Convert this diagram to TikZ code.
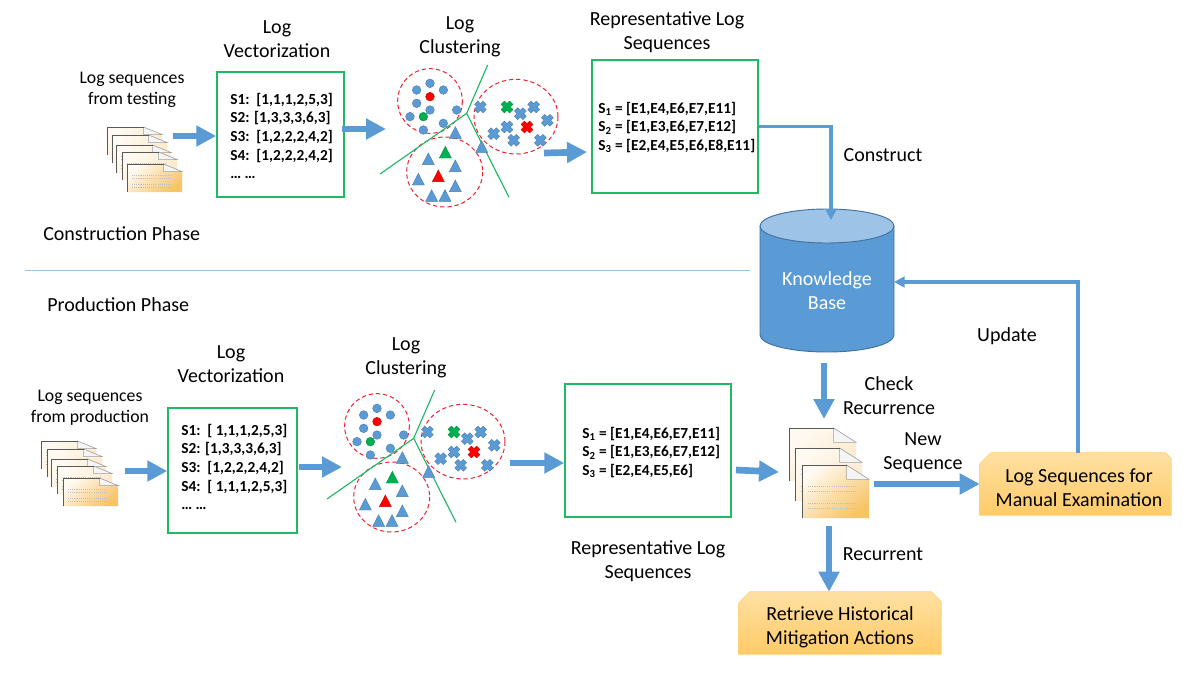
\documentclass[tikz,border=0pt]{standalone}
\usepackage{fontspec}
\setmainfont{Carlito}
\usetikzlibrary{arrows.meta,calc}
\definecolor{blockblue}{HTML}{5B9BD5}
\definecolor{darkblue}{HTML}{41719C}
\definecolor{lightblue}{HTML}{9DC3E6}
\definecolor{boxgreen}{HTML}{1FB865}
\definecolor{linegreen}{HTML}{1FB865}
\definecolor{clusterred}{HTML}{F02030}
\definecolor{mgreen}{HTML}{00B050}
\definecolor{orangetop}{HTML}{FFE0A3}
\definecolor{orangebot}{HTML}{FFCB66}
\definecolor{orangeedge}{HTML}{FFD27A}
\definecolor{sheetlight}{HTML}{FEFAF2}
\definecolor{sheetmid}{HTML}{FDF3E2}
\definecolor{sheetdark}{HTML}{F8C468}
\definecolor{sheetpale}{HTML}{FBE8C8}
\tikzset{
  px/.style={x=0.75pt,y=-0.75pt},
  seqbox/.style 2 args={draw=boxgreen,line width=1.1pt,fill=white,inner sep=0pt,
     minimum width=#1*0.75pt,minimum height=#2*0.75pt},
  seqtext/.style={font=\fontsize{11.5}{14}\selectfont\bfseries,align=left,anchor=west,inner sep=0pt},
  lab/.style={font=\fontsize{15}{18}\selectfont,align=center,inner sep=0pt},
  smalllab/.style={font=\fontsize{13.3}{15.8}\selectfont,align=center,inner sep=0pt},
  blockarrow/.style={draw=blockblue,line width=5pt,-{Triangle[width=15pt,length=15pt]}},
  elbow/.style={draw=blockblue,line width=2.9pt,-{Triangle[width=8pt,length=8pt]}},
  divider/.style={draw=lightblue,line width=0.7pt},
  clusterring/.style={draw=clusterred,line width=0.75pt,dash pattern=on 3.2pt off 2.2pt},
  sep/.style={draw=linegreen,line width=0.85pt},
  mark outline/.style={draw=darkblue,line width=0.3pt,fill=blockblue},
  actiontext/.style={font=\fontsize{15}{18}\selectfont,align=center,inner sep=0pt},
}
% one sheet of a stack: x, y, width, height in reference pixels, corner colour
\newcommand\docsheet[5]{%
  \begin{scope}[shift={(#1,#2)},x=#3*0.75pt,y=-#4*0.75pt]
    \shade[shading=axis,top color=sheetlight,middle color=sheetmid,bottom color=#5,shading angle=40]
      (0,0) -- (0.665,0) -- (1,0.27) -- (1,1) -- (0,1) -- cycle;
    \fill[white!92!gray] (0.665,0) -- (0.665,0.27) -- (1,0.27) -- cycle;
    \draw[gray!75,line width=0.45pt] (0.665,0) -- (1,0.27) -- (0.665,0.27) -- cycle;
    \draw[black!65,line width=0.75pt] (0,1) -- (0,0) -- (0.665,0);
    \foreach \ya in {0.4,0.5,0.72,0.82}
      \draw[gray!50,line width=0.4pt,dash pattern=on 0.8pt off 0.8pt] (0.09,\ya) -- (0.82,\ya);
  \end{scope}}
\newcommand\clusterset[2]{%
  \begin{scope}[shift={(#1,#2)},x=0.25pt,y=-0.25pt]
    \draw[clusterring] (180,153) ellipse [x radius=97,y radius=97];
    \draw[clusterring] (438,200) ellipse [x radius=126,y radius=112];
    \draw[clusterring] (224,366) ellipse [x radius=114,y radius=105];
    \coordinate (hub) at (290,190);
    \coordinate (sa) at (353,45);
    \coordinate (sb) at (30,372);
    \coordinate (sc) at (417,442);
    \draw[sep] (sa) -- (hub) -- (sb);
    \draw[sep] (hub) -- (sc);
    \foreach \xa/\ya/\ca in {180/100/blockblue,140/120/blockblue,220/120/blockblue,180/140/red,140/160/blockblue,180/180/blockblue,260/180/blockblue,120/200/blockblue,160/200/mgreen,220/220/blockblue,160/240/blockblue}
      \draw[mark outline,fill=\ca,draw=\ca!80!black] (\xa,\ya) circle [radius=13];
    \foreach \xa/\ya/\ca in {256/248/blockblue,335/290/blockblue,226/307/mgreen,175/327/blockblue,256/348/blockblue,145/388/blockblue,205/378/red,256/408/blockblue,185/437/blockblue,225/437/blockblue}
      \draw[mark outline,fill=\ca,draw=\ca!80!black] (\xa-18,\ya+17) -- (\xa,\ya-18) -- (\xa+18,\ya+17) -- cycle;
    \foreach \xa/\ya/\ca in {331/171/blockblue,411/171/mgreen,451/191/blockblue,491/171/blockblue,532/211/blockblue,411/231/blockblue,471/231/red,371/251/blockblue,431/271/blockblue,511/271/blockblue}
      \draw[mark outline,fill=\ca,draw=\ca!80!black,shift={(\xa,\ya)},rotate=45]
        (-7,-7) -- (-7,-18) -- (7,-18) -- (7,-7) -- (18,-7) -- (18,7) -- (7,7) -- (7,18) -- (-7,18) -- (-7,7) -- (-18,7) -- (-18,-7) -- cycle;
  \end{scope}}
\begin{document}
\begin{tikzpicture}[px]
\useasboundingbox (0,0) rectangle (1193,678);
\fill[white] (0,0) rectangle (1193,678);

% divider
\coordinate (dva) at (25,270);
\coordinate (dvb) at (750,270);
\draw[divider] (dva) -- (dvb);

% stacks
\foreach \xa/\ya/\ca in {107/127/sheetpale,112/135/sheetpale,116/145/sheetpale,122/152/sheetpale,127/164/sheetdark} \docsheet{\xa}{\ya}{55}{28}{\ca};
\foreach \xa/\ya/\ca in {41/441/sheetpale,47/449/sheetpale,51/459/sheetpale,57/466/sheetpale,63/478/sheetdark} \docsheet{\xa}{\ya}{55}{28}{\ca};
\foreach \xa/\ya/\ca in {789/428/sheetpale,795/448/sheetpale,802/465/sheetdark} \docsheet{\xa}{\ya}{67}{53}{\ca};

% boxes
\node[seqbox={127}{125}] (b1) at (280.5,134.5) {};
\node[seqbox={166}{133}] (b2) at (675,126.5) {};
\node[seqbox={129}{125}] (b3) at (232.5,470.5) {};
\node[seqbox={166}{133}] (b4) at (648,450.5) {};

\node[seqtext] (t1) at (230,136) {S1:\ \ [1,1,1,2,5,3]\\S2: [1,3,3,3,6,3]\\S3:\ \ [1,2,2,2,4,2]\\S4:\ \ [1,2,2,2,4,2]\\… …};
\node[seqtext] (t2) at (598,127.5) {S\textsubscript{1} = [E1,E4,E6,E7,E11]\\S\textsubscript{2} = [E1,E3,E6,E7,E12]\\S\textsubscript{3} = [E2,E4,E5,E6,E8,E11]};
\node[seqtext] (t3) at (181,467) {S1:\ \ [ 1,1,1,2,5,3]\\S2: [1,3,3,3,6,3]\\S3:\ \ [1,2,2,2,4,2]\\S4:\ \ [ 1,1,1,2,5,3]\\… …};
\node[seqtext] (t4) at (582,452.5) {S\textsubscript{1} = [E1,E4,E6,E7,E11]\\S\textsubscript{2} = [E1,E3,E6,E7,E12]\\S\textsubscript{3} = [E2,E4,E5,E6]};

% clusters
\clusterset{370}{50}
\clusterset{317}{375}

% knowledge base
\fill[blockblue] (760,226) -- (760,335) arc [start angle=180,end angle=0,x radius=67,y radius=17] -- (894,226) -- cycle;
\draw[darkblue,line width=0.7pt] (760,226) -- (760,335) arc [start angle=180,end angle=0,x radius=67,y radius=17] -- (894,226);
\draw[darkblue,line width=0.7pt,fill=lightblue] (827,226) ellipse [x radius=67,y radius=17];
\node[lab,text=white] (kb) at (827,290.5) {Knowledge\\Base};

% action boxes
\node[actiontext,minimum width=191*0.75pt,minimum height=62*0.75pt] (oe) at (1075.5,484) {\phantom{x}};
\shade[top color=orangetop,bottom color=orangebot,draw=orangeedge,line width=0.5pt]
  (oe.south west) -- ($(oe.north west)+(0,11)$) -- ($(oe.north west)+(11,0)$) -- ($(oe.north east)+(-6,0)$) -- ($(oe.north east)+(0,6)$) -- (oe.south east) -- cycle;
\node[actiontext] (oet) at (1079,488) {Log Sequences for\\Manual Examination};
\node[actiontext,minimum width=202*0.75pt,minimum height=62*0.75pt] (re) at (840,623) {\phantom{x}};
\shade[top color=orangetop,bottom color=orangebot,draw=orangeedge,line width=0.5pt]
  (re.south west) -- ($(re.north west)+(0,11)$) -- ($(re.north west)+(11,0)$) -- ($(re.north east)+(-10,0)$) -- ($(re.north east)+(0,10)$) -- (re.south east) -- cycle;
\node[actiontext] (ret) at (840,627) {Retrieve Historical\\Mitigation Actions};

% connectors
\coordinate (a1) at (173,136);
\draw[blockarrow] (a1) -- (a1 -| b1.west);
\coordinate (a2) at (342,129);
\coordinate (a2e) at (386,129);
\draw[blockarrow] (a2) -- (a2e);
\coordinate (a3) at (544,153);
\coordinate (a3e) at (587,152);
\draw[blockarrow] (a3) -- (a3e);
\coordinate (a4) at (125,471);
\draw[blockarrow] (a4) -- (a4 -| b3.west);
\coordinate (a5) at (299,467);
\coordinate (a5e) at (342,467);
\draw[blockarrow] (a5) -- (a5e);
\coordinate (a6) at (510,463);
\draw[blockarrow] (a6) -- (a6 -| b4.west);
\coordinate (a7) at (736,470);
\coordinate (a7e) at (779,472);
\draw[blockarrow] (a7) -- (a7e);
\coordinate (a8) at (824,363);
\coordinate (a8e) at (824,419);
\draw[blockarrow] (a8) -- (a8e);
\coordinate (a9) at (874,484);
\draw[blockarrow] (a9) -- (oe.west);
\coordinate (a10) at (829,526);
\draw[blockarrow] (a10) -- (a10 |- re.north);
\coordinate (kbtop) at (831,220);
\draw[elbow] (b2.east) -| (kbtop);
\coordinate (upd) at (1078,453);
\coordinate (kbr) at (894,282);
\draw[elbow] (upd) |- (kbr);

% labels
\node[smalllab] (l1) at (132,90) {Log sequences\\from testing};
\node[lab] (l2) at (277,39) {Log\\Vectorization};
\node[lab] (l3) at (460,37) {Log\\Clustering};
\node[lab] (l4) at (667,32) {Representative Log\\Sequences};
\node[lab,anchor=west] (l5) at (43,234) {Construction Phase};
\node[lab,anchor=west] (l6) at (47,305) {Production Phase};
\node[lab] (l7) at (883,155) {Construct};
\node[smalllab] (l8) at (90,407.5) {Log sequences\\from production};
\node[lab] (l9) at (231,364.5) {Log\\Vectorization};
\node[lab] (l10) at (406,358) {Log\\Clustering};
\node[lab] (l11) at (648,561) {Representative Log\\Sequences};
\node[lab] (l12) at (889,395.5) {Check\\Recurrence};
\node[lab] (l13) at (923,453) {New\\Sequence};
\node[lab] (l14) at (883,554) {Recurrent};
\node[lab] (l15) at (1007,336) {Update};
\end{tikzpicture}
\end{document}
